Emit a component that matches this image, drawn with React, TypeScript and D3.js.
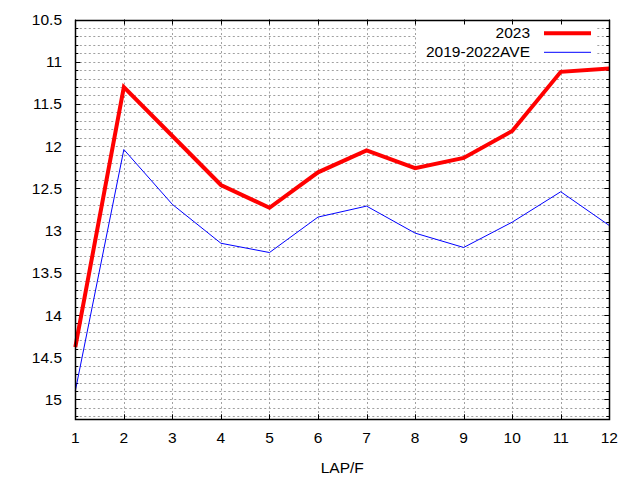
import React, { useRef, useEffect } from 'react';
import * as d3 from 'd3';

const laps = [1, 2, 3, 4, 5, 6, 7, 8, 9, 10, 11, 12];
const times2023 = [14.38, 11.3, 11.88, 12.46, 12.73, 12.31, 12.05, 12.26, 12.14, 11.82, 11.12, 11.08];
const timesAve = [14.9, 12.04, 12.69, 13.15, 13.26, 12.84, 12.71, 13.03, 13.2, 12.9, 12.54, 12.94];
const yTicks = [10.5, 11, 11.5, 12, 12.5, 13, 13.5, 14, 14.5, 15];
const seriesNames = ['2023', '2019-2022AVE'];

const W = 640;
const H = 480;
const FONT = '"Liberation Sans", Arial, sans-serif';

const App: React.FC = () => {
  const ref = useRef<SVGSVGElement>(null);

  useEffect(() => {
    const svg = d3.select(ref.current);
    svg.selectAll('*').remove();

    const left = 75.3;
    const right = 609.3;
    const top = 19.5;
    const bottom = 419.3;

    const x = d3.scaleLinear().domain([1, 12]).range([left, right]);
    const y = d3.scaleLinear().domain([10.5, 15.235]).range([top, bottom]);

    // minor grid every 0.1 on y
    const minor = d3.range(106, 153).map((v) => v / 10);
    const grid = svg.append('g').attr('stroke', '#a0a0a0').attr('stroke-width', 1).attr('stroke-dasharray', '2,2.5');
    minor.forEach((v) => {
      const yy = Math.round(y(v)) + 0.5;
      grid.append('line').attr('x1', left).attr('x2', right).attr('y1', yy).attr('y2', yy);
    });
    laps.slice(1, -1).forEach((v) => {
      const xx = Math.round(x(v)) + 0.5;
      grid.append('line').attr('x1', xx).attr('x2', xx).attr('y1', top).attr('y2', bottom);
    });

    // legend box hides the grid behind it
    svg
      .append('rect')
      .attr('x', 417)
      .attr('y', top)
      .attr('width', 180)
      .attr('height', 42)
      .attr('fill', '#fff');

    // ticks
    const ticks = svg.append('g').attr('stroke', '#000').attr('stroke-width', 1);
    minor.concat([10.5]).forEach((v) => {
      const yy = Math.round(y(v)) + 0.5;
      const major = yTicks.some((t) => Math.abs(t - v) < 1e-6);
      const len = major ? 5 : 3;
      ticks.append('line').attr('x1', left).attr('x2', left + len).attr('y1', yy).attr('y2', yy);
      ticks.append('line').attr('x1', right).attr('x2', right - len).attr('y1', yy).attr('y2', yy);
    });
    laps.forEach((v) => {
      const xx = Math.round(x(v)) + 0.5;
      ticks.append('line').attr('x1', xx).attr('x2', xx).attr('y1', bottom).attr('y2', bottom - 5);
      ticks.append('line').attr('x1', xx).attr('x2', xx).attr('y1', top).attr('y2', top + 5);
    });

    // labels
    svg
      .append('g')
      .selectAll('text')
      .data(yTicks)
      .enter()
      .append('text')
      .attr('x', 62)
      .attr('y', (d) => y(d) + 5.5)
      .attr('text-anchor', 'end')
      .attr('font-family', FONT)
      .attr('font-size', 15.5)
      .text((d) => String(d));

    svg
      .append('g')
      .selectAll('text')
      .data(laps)
      .enter()
      .append('text')
      .attr('x', (d) => x(d))
      .attr('y', 443)
      .attr('text-anchor', 'middle')
      .attr('font-family', FONT)
      .attr('font-size', 15.5)
      .text((d) => String(d));

    svg
      .append('text')
      .attr('x', (left + right) / 2)
      .attr('y', 473)
      .attr('text-anchor', 'middle')
      .attr('font-family', FONT)
      .attr('font-size', 15.5)
      .text('LAP/F');

    // lines
    const line = d3
      .line<number>()
      .x((_, i) => x(laps[i]))
      .y((d) => y(d));

    svg
      .append('path')
      .attr('d', line(timesAve))
      .attr('fill', 'none')
      .attr('stroke', '#0000ff')
      .attr('stroke-width', 1);

    svg
      .append('path')
      .attr('d', line(times2023))
      .attr('fill', 'none')
      .attr('stroke', '#ff0000')
      .attr('stroke-width', 4)
      .attr('stroke-linejoin', 'miter');

    // border
    svg
      .append('rect')
      .attr('x', Math.round(left) + 0.5)
      .attr('y', Math.round(top) + 0.5)
      .attr('width', Math.round(right) - Math.round(left))
      .attr('height', Math.round(bottom) - Math.round(top))
      .attr('fill', 'none')
      .attr('stroke', '#000')
      .attr('stroke-width', 1.5);

    // legend
    const legend = svg.append('g');
    const colors = ['#ff0000', '#0000ff'];
    const widths = [4, 1];
    seriesNames.forEach((name, i) => {
      const ly = 33.3 + i * 19;
      legend
        .append('text')
        .attr('x', 530)
        .attr('y', ly + 5)
        .attr('text-anchor', 'end')
        .attr('font-family', FONT)
        .attr('font-size', 15.5)
        .text(name);
      legend
        .append('line')
        .attr('x1', 544)
        .attr('x2', 591)
        .attr('y1', ly)
        .attr('y2', ly)
        .attr('stroke', colors[i])
        .attr('stroke-width', widths[i]);
    });
  }, []);

  return (
    <svg
      ref={ref}
      width={W}
      height={H}
      style={{ position: 'absolute', left: 0, top: 0, background: '#fff' }}
    />
  );
};

export default App;
